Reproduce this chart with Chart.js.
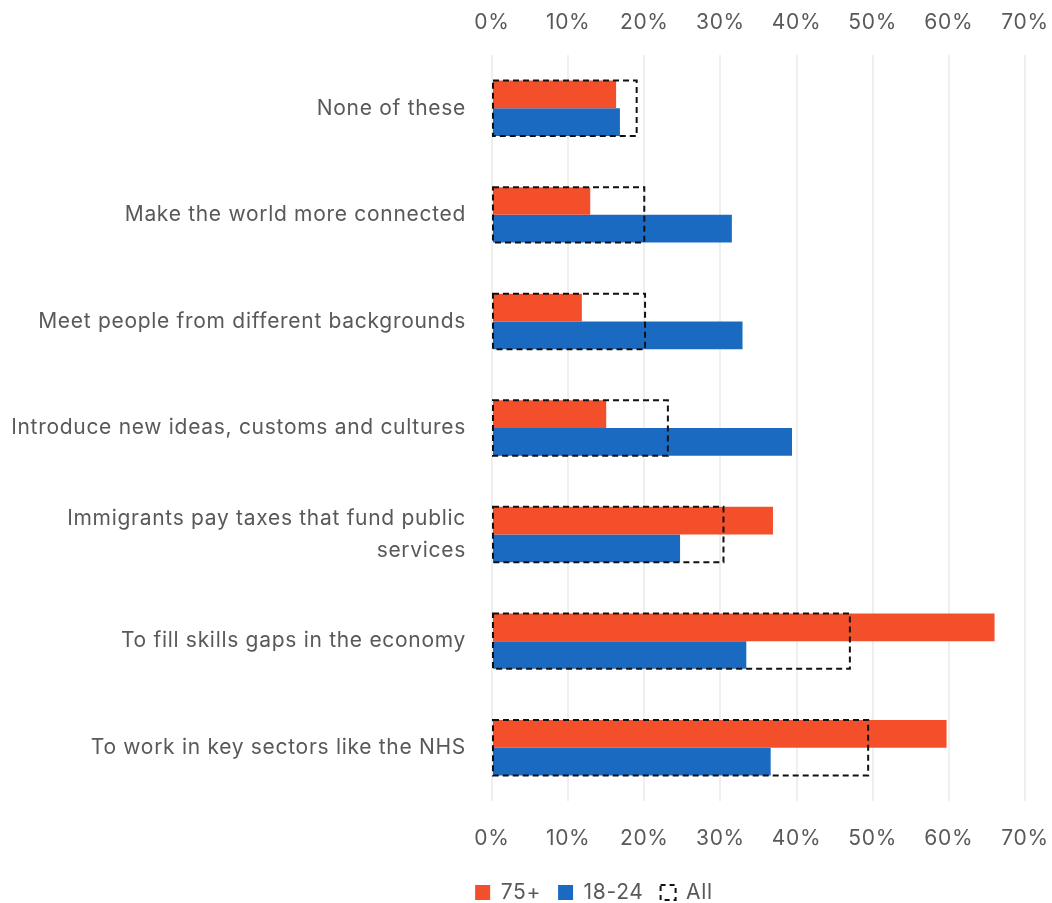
<!DOCTYPE html>
<html>
<head>
<meta charset="utf-8">
<script src="https://cdn.jsdelivr.net/npm/chart.js@4.4.1/dist/chart.umd.min.js"></script>
<style>
  html, body { margin: 0; padding: 0; background: #fff; }
  #wrap { width: 1052px; height: 903px; }
</style>
</head>
<body>
<div id="wrap"><canvas id="chart" width="1052" height="903"></canvas></div>
<script>
// reasons given, share of respondents (%)
const reasons = [
  'None of these',
  'Make the world more connected',
  'Meet people from different backgrounds',
  'Introduce new ideas, customs and cultures',
  ['Immigrants pay taxes that fund public', 'services'],
  'To fill skills gaps in the economy',
  'To work in key sectors like the NHS'
];
const aged75plus = [16.3, 12.9, 11.8, 15.0, 36.9, 66.0, 59.7];
const aged18to24 = [16.8, 31.5, 32.9, 39.4, 24.7, 33.4, 36.6];
const allAdults = [19.0, 20.0, 20.1, 23.1, 30.4, 47.0, 49.4];
const pctTicks = [0, 10, 20, 30, 40, 50, 60, 70];

const RED = '#f44f2b';
const BLUE = '#1b6ac1';
const TEXT = '#595959';
const FONT = 'Inter, "Open Sans", sans-serif';

Chart.defaults.font.family = FONT;
Chart.defaults.font.size = 21;
Chart.defaults.color = TEXT;

// a little extra tracking so the labels run as wide as a geometric sans would
const tracking = {
  id: 'tracking',
  beforeLayout(chart) { chart.ctx.letterSpacing = '0.7px'; },
  beforeDraw(chart) { chart.ctx.letterSpacing = '0.7px'; }
};

// legend sits centred under the right part of the figure, not the whole canvas
const legendShift = {
  id: 'legendShift',
  afterLayout(chart) { chart.legend.left = 136; }
};

// outline bars for "All" - Chart.js bars have no borderDash, so stroke them here
const dashedOutline = {
  id: 'dashedOutline',
  afterDatasetsDraw(chart) {
    const meta = chart.getDatasetMeta(2);
    if (meta.hidden) return;
    const ctx = chart.ctx;
    ctx.save();
    ctx.strokeStyle = '#111';
    ctx.lineWidth = 2;
    ctx.setLineDash([6, 4]);
    meta.data.forEach(bar => {
      const p = bar.getProps(['x', 'y', 'base', 'height'], true);
      const top = p.y - p.height / 2;
      ctx.strokeRect(p.base, top, p.x - p.base, p.height);
    });
    ctx.restore();
  }
};

const pctAxis = (position, showGrid) => ({
  type: 'linear',
  position: position,
  min: 0,
  max: 70,
  afterBuildTicks: s => { s.ticks = pctTicks.map(v => ({ value: v })); },
  ticks: { callback: v => v + '%', padding: position === 'top' ? 20 : 25, color: TEXT },
  grid: { display: showGrid, color: '#efefef', lineWidth: 2, drawTicks: false },
  border: { display: false },
  afterFit: s => {
    s.height = position === 'top' ? 55 : 64;
    s.paddingLeft = 0;
    s.paddingRight = 27;
  }
});

new Chart(document.getElementById('chart'), {
  type: 'bar',
  data: {
    labels: reasons,
    datasets: [
      { label: '75+', data: aged75plus, backgroundColor: RED, xAxisID: 'x', categoryPercentage: 0.52, barPercentage: 1 },
      { label: '18-24', data: aged18to24, backgroundColor: BLUE, xAxisID: 'x', categoryPercentage: 0.52, barPercentage: 1 },
      { label: 'All', data: allAdults, backgroundColor: 'rgba(0,0,0,0)', borderWidth: 0, grouped: false,
        xAxisID: 'x', categoryPercentage: 0.52, barPercentage: 1 }
    ]
  },
  options: {
    indexAxis: 'y',
    responsive: false,
    animation: false,
    devicePixelRatio: 1,
    layout: { padding: { top: 0, right: 0, bottom: -10, left: 0 } },
    scales: {
      x: pctAxis('bottom', true),
      x2: pctAxis('top', false),
      y: {
        grid: { display: false },
        border: { display: false },
        ticks: { padding: 18, color: TEXT, font: { lineHeight: 1.5 } },
        afterFit: s => { s.width = 492; }
      }
    },
    plugins: {
      tooltip: { enabled: false },
      legend: {
        position: 'bottom',
        labels: {
          boxWidth: 15,
          boxHeight: 15,
          padding: 17,
          color: TEXT,
          generateLabels: chart => chart.data.datasets.map((ds, i) => {
            const isAll = i === 2;
            return {
              text: ds.label,
              datasetIndex: i,
              fillStyle: isAll ? 'rgba(0,0,0,0)' : ds.backgroundColor,
              strokeStyle: isAll ? '#111' : ds.backgroundColor,
              lineWidth: isAll ? 2 : 0,
              lineDash: isAll ? [5, 4] : [],
              fontColor: TEXT,
              hidden: !chart.isDatasetVisible(i)
            };
          })
        }
      }
    }
  },
  plugins: [tracking, legendShift, dashedOutline]
});
</script>
</body>
</html>
